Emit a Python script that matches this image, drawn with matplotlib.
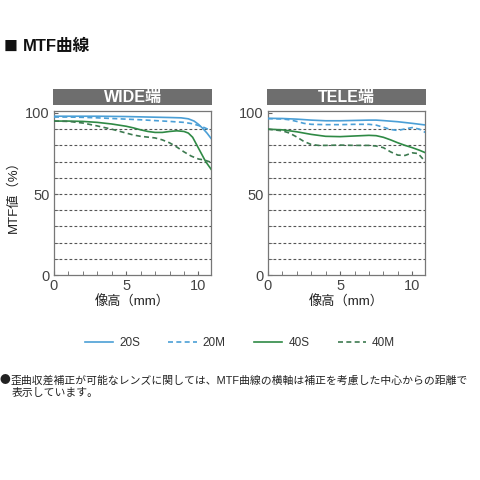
import matplotlib
matplotlib.use("Agg")
import matplotlib.pyplot as plt
from matplotlib.patches import Rectangle

plt.rcParams['font.family'] = ['Liberation Sans', 'Noto Sans CJK JP']
cjk = ['Noto Sans CJK JP', 'DejaVu Sans']

# ==============================
# Data
# ==============================
wide_x_20s = [0, 1, 2, 3, 4, 5, 6, 7, 8, 8.8, 9.3, 9.7, 10.0, 10.3, 10.6, 10.9]
wide_20s = [98, 98, 98, 98, 97.9, 97.8, 97.6, 97.4, 97.2, 97, 96.4, 95, 93, 90.5, 87.5, 84]

wide_x_20m = [0, 1, 2, 3, 4, 5, 6, 7, 8, 9, 9.5, 10, 10.4, 10.9]
wide_20m = [97.5, 97.5, 97.3, 97, 96.6, 96.2, 95.8, 95.3, 94.8, 94.2, 93.5, 92.3, 91, 89]

wide_x_40s = [0, 1, 2, 3, 4, 5, 5.5, 6, 6.5, 7, 7.5, 8, 8.5, 9, 9.3, 9.6, 9.9, 10.2, 10.5, 10.9]
wide_40s = [95, 95, 94.8, 94.2, 93.2, 91.8, 90.8, 89.6, 88.6, 88, 88, 88.6, 89, 88.6, 87.6, 85, 80, 75, 70, 65]

wide_x_40m = [0, 1, 2, 3, 4, 5, 5.5, 6, 7, 7.5, 8, 8.5, 9, 9.5, 10, 10.4, 10.9]
wide_40m = [95, 94.8, 93.8, 92, 90, 87.6, 86.4, 85.6, 84.6, 83.4, 81.6, 79, 76, 73.4, 71.6, 71, 69.5]

tele_x_20s = [0, 1, 2, 3, 4, 5, 6, 7, 7.5, 8, 9, 10, 10.9]
tele_20s = [96.7, 96.6, 96.2, 95.6, 95.2, 95.2, 95.4, 95.6, 95.6, 95.3, 94.6, 93.6, 92.6]

tele_x_20m = [0, 1, 1.5, 2, 2.5, 3, 4, 5, 6, 7, 7.5, 8, 8.5, 9, 9.5, 10, 10.5, 10.9]
tele_20m = [96.5, 96.3, 95.8, 94.8, 93.6, 93, 92.8, 92.8, 93, 93, 92.5, 91.2, 89.8, 89.2, 90.2, 91, 90, 88]

tele_x_40s = [0, 1, 2, 3, 4, 5, 6, 7, 7.5, 8, 8.5, 9, 9.5, 10, 10.5, 10.9]
tele_40s = [90, 89.6, 88.4, 86.8, 85.6, 85.4, 85.8, 86.2, 86, 85, 83.4, 81.6, 80, 78.6, 77, 75.5]

tele_x_40m = [0, 1, 1.5, 2, 2.5, 3, 3.5, 4, 5, 6, 7, 7.5, 8, 8.5, 9, 9.5, 10, 10.4, 10.9]
tele_40m = [90, 89, 87.6, 85.2, 82.4, 80.6, 80, 80, 80.2, 80, 80, 79.6, 78.6, 76, 74, 73.8, 75.4, 75, 70]

series_labels = ["20S", "20M", "40S", "40M"]

blue = "#4b9fd6"
green = "#2f8a45"
green_dash = "#3d7a50"

# ==============================
# Figure
# ==============================
fig = plt.figure(figsize=(4.8, 4.8), dpi=100)

fig.text(0.008, 0.903, "■", fontsize=10, color="#111", va="center", family=cjk)
fig.text(0.048, 0.903, "MTF曲線", fontsize=12, fontweight="bold", color="#111", va="center")

panels = [
    ("WIDE端", 0.1125, [(wide_x_20s, wide_20s), (wide_x_20m, wide_20m),
                       (wide_x_40s, wide_40s), (wide_x_40m, wide_40m)]),
    ("TELE端", 0.558, [(tele_x_20s, tele_20s), (tele_x_20m, tele_20m),
                      (tele_x_40s, tele_40s), (tele_x_40m, tele_40m)]),
]
styles = [(blue, "-"), (blue, (0, (3, 2))), (green, "-"), (green_dash, (0, (3, 2)))]

handles = []
for title, left, series in panels:
    ax = fig.add_axes([left, 0.427, 0.328, 0.341])
    # header bar
    fig.add_artist(Rectangle((left - 0.002, 0.781), 0.332, 0.033,
                             transform=fig.transFigure, facecolor="#6e6e6e",
                             edgecolor="none"))
    fig.text(left + 0.164, 0.7975, title, color="white", fontsize=11.5,
             fontweight="bold", ha="center", va="center")

    for yv in range(10, 100, 10):
        ax.axhline(yv, color="#555", lw=0.8, ls=(0, (2.5, 2)), zorder=1)

    handles = []
    for (xs, ys), (c, ls) in zip(series, styles):
        h, = ax.plot(xs, ys, color=c, ls=ls, lw=1.2, zorder=3)
        handles.append(h)

    ax.set_xlim(0, 10.9)
    ax.set_ylim(0, 101)
    ax.set_xticks([0, 5, 10])
    ax.set_xticks(range(0, 11), minor=True)
    ax.set_yticks([0, 50, 100])
    ax.set_yticks(range(0, 101, 10), minor=True)
    ax.tick_params(which="both", direction="in", length=3, color="#666",
                   labelsize=10.5, labelcolor="#444", pad=3)
    for s in ax.spines.values():
        s.set_color("#777")
        s.set_linewidth(0.9)
    ax.set_xlabel("像高（mm）", fontsize=9.5, color="#222", labelpad=2)
    if left < 0.3:
        ax.set_ylabel("MTF値（%）", fontsize=9.5, color="#222", labelpad=4)

fig.legend(handles, series_labels, loc="center", bbox_to_anchor=(0.5, 0.285),
           ncol=4, frameon=False, fontsize=8.5, handlelength=2.4, columnspacing=2.4,
           handletextpad=0.5, labelcolor="#333")

fig.text(0.0, 0.208, "●", fontsize=7.8, color="#222", va="center", family=cjk)
fig.text(0.021, 0.208, "歪曲収差補正が可能なレンズに関しては、MTF曲線の横軸は補正を考慮した中心からの距離で",
         fontsize=7.8, color="#222", va="center")
fig.text(0.025, 0.181, "表示しています。", fontsize=7.8, color="#222", va="center")

plt.savefig("out.png", dpi=100, facecolor="white")
